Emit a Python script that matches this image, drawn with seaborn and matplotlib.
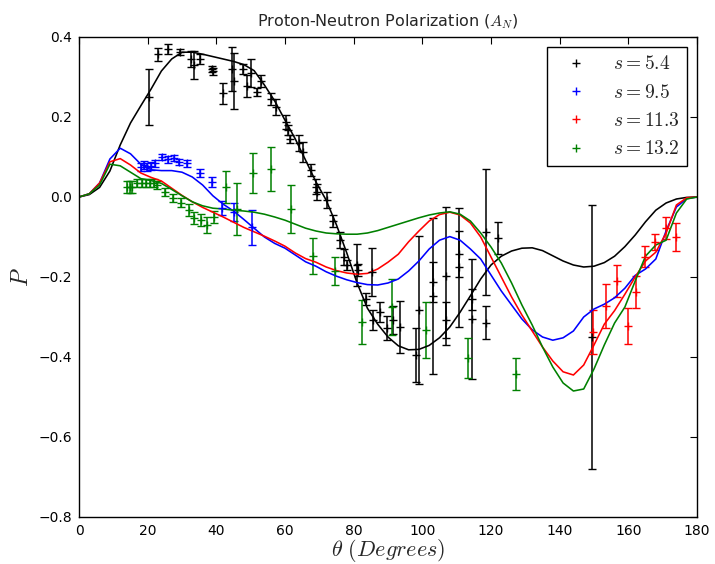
import matplotlib
matplotlib.use("Agg")
import matplotlib.pyplot as plt
from matplotlib.lines import Line2D
import seaborn as sns
import pandas as pd

# ---------------- data points (theta in degrees, P, error) ----------------
theta_54 = [20.4, 23.1, 25.8, 29.4, 32.6, 33.6, 35.2, 38.8, 39.0, 42.0, 44.6, 45.0,
            47.8, 48.8, 50.1, 51.8, 53.0, 55.8, 57.4, 60.3, 60.8, 61.5, 64.2, 65.3,
            67.5, 69.0, 69.4, 72.3, 73.9, 76.0, 77.2, 78.0, 80.9, 81.4, 83.6, 85.2,
            85.7, 87.7, 89.6, 91.6, 93.5, 98.2, 99.1, 103.0, 103.2, 106.9, 106.9,
            110.8, 110.8, 114.6, 114.6, 118.5, 118.5, 122.1, 149.3]
p_54 = [0.251, 0.357, 0.370, 0.362, 0.345, 0.330, 0.345, 0.320, 0.314, 0.259, 0.320, 0.290,
        0.320, 0.278, 0.309, 0.262, 0.290, 0.244, 0.226, 0.188, 0.168, 0.144, 0.134, 0.113,
        0.068, 0.026, 0.013, -0.008, -0.059, -0.108, -0.151, -0.170, -0.170, -0.183, -0.256, -0.187,
        -0.308, -0.287, -0.328, -0.308, -0.325, -0.395, -0.282, -0.248, -0.212, -0.197, -0.308,
        -0.176, -0.142, -0.305, -0.256, -0.088, -0.314, -0.103, -0.349]
err_54 = [0.070, 0.016, 0.012, 0.008, 0.020, 0.035, 0.012, 0.008, 0.008, 0.027, 0.055, 0.070,
          0.012, 0.028, 0.035, 0.010, 0.015, 0.015, 0.020, 0.018, 0.012, 0.010, 0.020, 0.025,
          0.015, 0.018, 0.020, 0.020, 0.015, 0.020, 0.020, 0.012, 0.052, 0.015, 0.015, 0.060,
          0.025, 0.025, 0.030, 0.035, 0.065, 0.067, 0.185, 0.195, 0.050, 0.173, 0.045,
          0.148, 0.058, 0.150, 0.026, 0.157, 0.042, 0.040, 0.330]

theta_95 = [18.0, 18.9, 19.9, 20.9, 22.1, 24.1, 26.0, 27.7, 29.1, 31.5, 35.1, 38.6, 41.6, 45.1, 50.5]
p_95 = [0.074, 0.080, 0.076, 0.078, 0.084, 0.100, 0.094, 0.097, 0.088, 0.084, 0.061, 0.038,
        -0.028, -0.037, -0.076]
err_95 = [0.010, 0.010, 0.010, 0.010, 0.008, 0.008, 0.008, 0.008, 0.008, 0.008, 0.010, 0.012,
          0.018, 0.022, 0.043]

theta_113 = [149.6, 153.5, 156.8, 160.0, 162.3, 164.9, 167.8, 170.9, 173.9]
p_113 = [-0.337, -0.273, -0.210, -0.323, -0.238, -0.149, -0.113, -0.077, -0.099]
err_113 = [0.055, 0.055, 0.040, 0.045, 0.040, 0.027, 0.020, 0.027, 0.035]

theta_132 = [14.1, 14.8, 15.5, 17.0, 18.4, 19.4, 20.6, 21.8, 22.8, 25.1, 27.4, 29.6, 32.0,
             33.5, 35.4, 37.4, 39.3, 42.7, 46.1, 50.6, 55.9, 61.7, 68.2, 74.5, 82.3, 91.1,
             101.0, 113.3, 127.3]
p_132 = [0.024, 0.024, 0.026, 0.034, 0.036, 0.034, 0.036, 0.036, 0.030, 0.013, -0.003, -0.014,
         -0.033, -0.053, -0.058, -0.070, -0.051, 0.024, -0.030, 0.059, 0.070, -0.030, -0.147,
         -0.185, -0.312, -0.274, -0.333, -0.402, -0.443]
err_132 = [0.015, 0.015, 0.015, 0.010, 0.010, 0.010, 0.010, 0.010, 0.010, 0.010, 0.010, 0.012,
           0.015, 0.015, 0.015, 0.020, 0.015, 0.040, 0.065, 0.050, 0.055, 0.060, 0.045,
           0.036, 0.055, 0.070, 0.070, 0.050, 0.040]

# ---------------- model curves (read every 3 degrees) ----------------
theta_curve = [0, 3, 6, 9, 12, 15, 18, 21, 24, 27, 30, 33, 36, 39, 42, 45, 48, 51, 54, 57,
               60, 63, 66, 69, 72, 75, 78, 81, 84, 87, 90, 93, 96, 99, 102, 105, 108, 111,
               114, 117, 120, 123, 126, 129, 132, 135, 138, 141, 144, 147, 150, 153, 156,
               159, 162, 165, 168, 171, 174, 177, 180]
curve_54 = [0, 0.006, 0.024, 0.065, 0.13, 0.185, 0.228, 0.27, 0.315, 0.345, 0.362, 0.362,
            0.357, 0.351, 0.345, 0.339, 0.331, 0.316, 0.28, 0.24, 0.192, 0.145, 0.092, 0.038,
            -0.008, -0.07, -0.14, -0.215, -0.278, -0.318, -0.35, -0.372, -0.382, -0.381,
            -0.371, -0.352, -0.325, -0.288, -0.247, -0.205, -0.17, -0.148, -0.135, -0.128,
            -0.127, -0.134, -0.147, -0.16, -0.17, -0.175, -0.173, -0.164, -0.148, -0.124,
            -0.095, -0.062, -0.033, -0.015, -0.005, -0.001, 0]
curve_95 = [0, 0.008, 0.035, 0.095, 0.122, 0.108, 0.082, 0.068, 0.066, 0.066, 0.062, 0.05,
            0.03, 0.003, -0.018, -0.035, -0.056, -0.078, -0.1, -0.116, -0.128, -0.145, -0.162,
            -0.173, -0.187, -0.198, -0.207, -0.214, -0.219, -0.22, -0.215, -0.205, -0.185,
            -0.16, -0.13, -0.108, -0.099, -0.108, -0.13, -0.155, -0.195, -0.235, -0.27, -0.305,
            -0.332, -0.35, -0.358, -0.352, -0.335, -0.3, -0.28, -0.268, -0.252, -0.228, -0.196,
            -0.18, -0.155, -0.085, -0.025, -0.004, 0]
curve_113 = [0, 0.008, 0.035, 0.088, 0.096, 0.08, 0.06, 0.049, 0.04, 0.022, 0.004, -0.012,
             -0.026, -0.038, -0.05, -0.063, -0.076, -0.087, -0.098, -0.11, -0.123, -0.14,
             -0.154, -0.163, -0.175, -0.184, -0.19, -0.193, -0.191, -0.18, -0.163, -0.143,
             -0.112, -0.085, -0.06, -0.044, -0.038, -0.045, -0.065, -0.1, -0.15, -0.2, -0.25,
             -0.295, -0.335, -0.375, -0.41, -0.437, -0.445, -0.42, -0.37, -0.318, -0.284,
             -0.243, -0.2, -0.16, -0.138, -0.09, -0.02, -0.002, 0]
curve_132 = [0, 0.008, 0.03, 0.082, 0.078, 0.062, 0.046, 0.041, 0.034, 0.019, 0.003, -0.012,
             -0.022, -0.028, -0.03, -0.033, -0.035, -0.038, -0.043, -0.05, -0.058, -0.068,
             -0.078, -0.085, -0.09, -0.092, -0.093, -0.093, -0.09, -0.084, -0.076, -0.068,
             -0.06, -0.052, -0.045, -0.04, -0.037, -0.043, -0.06, -0.09, -0.125, -0.165,
             -0.215, -0.27, -0.32, -0.375, -0.425, -0.465, -0.485, -0.48, -0.43, -0.37,
             -0.315, -0.275, -0.21, -0.148, -0.12, -0.108, -0.04, -0.005, 0]

labels = ["$s=5.4$", "$s=9.5$", "$s=11.3$", "$s=13.2$"]
colors = ["#000000", "#0000ff", "#ff0000", "#008000"]

# ---------------- figure ----------------
sns.set_style("white")
plt.rcParams["font.family"] = ["DejaVu Sans"]
plt.rcParams["mathtext.fontset"] = "cm"

fig = plt.figure(figsize=(7.15, 5.64), dpi=100)
ax = fig.add_axes([79 / 715, 1 - 517 / 564, 618 / 715, 480 / 564])

datasets = [(theta_54, p_54, err_54), (theta_95, p_95, err_95),
            (theta_113, p_113, err_113), (theta_132, p_132, err_132)]
for (t, p, e), c in zip(datasets, colors):
    ax.errorbar(t, p, yerr=e, fmt="+", color=c, ecolor=c, elinewidth=1.1,
                capsize=3, capthick=1.1, markersize=6, markeredgewidth=1.0)

curve_df = pd.DataFrame({"theta": theta_curve * 4,
                         "P": curve_54 + curve_95 + curve_113 + curve_132,
                         "series": sum([[l] * len(theta_curve) for l in labels], [])})
sns.lineplot(data=curve_df, x="theta", y="P", hue="series", palette=dict(zip(labels, colors)),
             sort=False, estimator=None, linewidth=1.15, legend=False, ax=ax)

ax.set_xlim(0, 180)
ax.set_ylim(-0.8, 0.4)
ax.set_xticks(range(0, 181, 20))
ax.set_yticks([-0.8, -0.6, -0.4, -0.2, 0.0, 0.2, 0.4])
ax.tick_params(direction="in", top=True, right=True, length=5, width=0.8,
               labelsize=10, pad=5, colors="black")
for s in ax.spines.values():
    s.set_color("black")
    s.set_linewidth(1.0)

ax.set_title("Proton-Neutron Polarization ($A_N$)", fontsize=11.5, pad=8)
ax.set_xlabel(r"$\theta\ (Degrees)$", fontsize=16, labelpad=-1)
ax.set_ylabel(r"$P$", fontsize=17, labelpad=4)

handles = [Line2D([], [], linestyle="none", marker="+", color=c, markersize=6,
                  markeredgewidth=1.0) for c in colors]
leg = ax.legend(handles, labels, loc="upper right", fontsize=14, frameon=True,
                fancybox=False, framealpha=1, edgecolor="black", borderaxespad=0.5,
                handlelength=2.2, labelspacing=0.48)
leg.get_frame().set_linewidth(1.0)

fig.savefig("out.png", dpi=100, facecolor="white")
